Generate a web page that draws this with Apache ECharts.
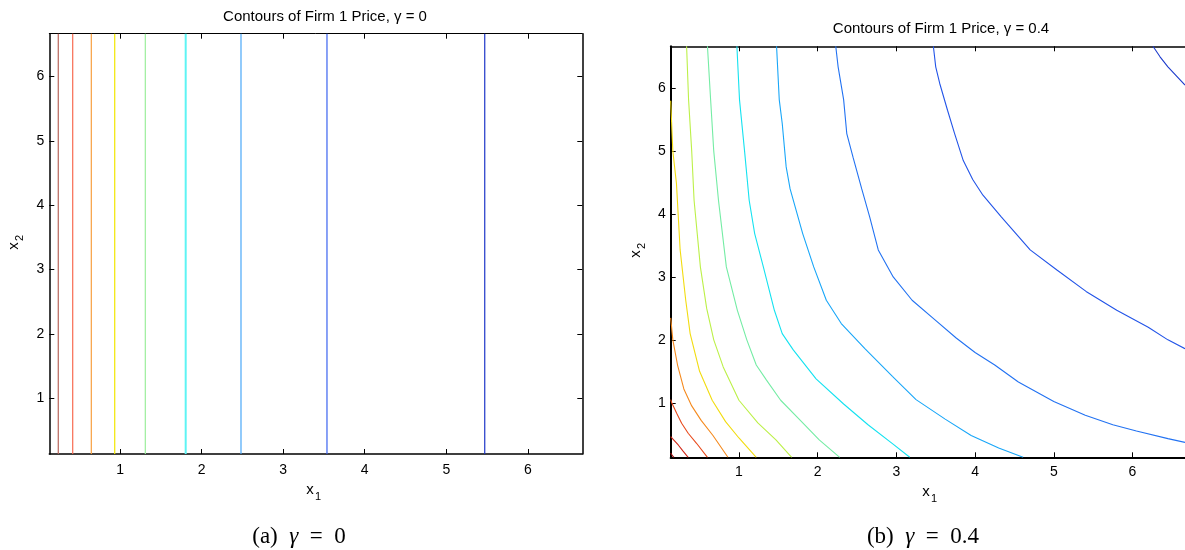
<!DOCTYPE html>
<html>
<head>
<meta charset="utf-8">
<script src="https://cdn.jsdelivr.net/npm/echarts@6.0.0/dist/echarts.min.js"></script>
<style>
  html, body { margin: 0; padding: 0; background: #fff; }
  #chart { width: 1185px; height: 550px; }
</style>
</head>
<body>
<div id="chart"></div>
<script>
// axis range shared by both panels
const axisMin = 0.133;
const axisMax = 6.667;
const tickValues = [1, 2, 3, 4, 5, 6];

// (a) gamma = 0 : contour levels are vertical lines at these x1 values
const levelXa = [0.243, 0.42, 0.648, 0.935, 1.31, 1.805, 2.483, 3.537, 5.471];
const colorsA = ['#b8645a', '#f86a50', '#f8a040', '#f2e600', '#9cee9c', '#5ef4f4', '#4aa8f8', '#3a62f0', '#1e36c8'];

// (b) gamma = 0.4 : contour polylines [x1, x2]
const cDarkest = [[0.133, 0.2], [0.16, 0.15], [0.175, 0.133]];
const cDarkRed = [[0.133, 0.46], [0.17, 0.41], [0.229, 0.329], [0.29, 0.23], [0.355, 0.133]];
const cRed = [[0.133, 1.05], [0.146, 1.0], [0.209, 0.833], [0.272, 0.674], [0.355, 0.515], [0.461, 0.356], [0.6, 0.133]];
const cOrange = [[0.133, 2.35], [0.16, 2.0], [0.22, 1.6], [0.3, 1.22], [0.4, 0.95], [0.52, 0.72], [0.67, 0.48], [0.86, 0.133]];
const cYellow = [[0.133, 5.8], [0.16, 5.0], [0.206, 4.49], [0.253, 3.43], [0.324, 2.63], [0.38, 2.1], [0.5, 1.5], [0.66, 1.04], [0.83, 0.7], [1.0, 0.44], [1.22, 0.133]];
const cYellowGreen = [[0.335, 6.667], [0.36, 5.82], [0.4, 5.0], [0.43, 4.22], [0.51, 3.16], [0.59, 2.5], [0.68, 2.0], [0.8, 1.57], [1.0, 1.04], [1.24, 0.68], [1.47, 0.41], [1.67, 0.133]];
const cGreen = [[0.6, 6.667], [0.64, 5.82], [0.68, 5.0], [0.74, 4.22], [0.84, 3.16], [0.98, 2.47], [1.1, 2.0], [1.22, 1.6], [1.35, 1.36], [1.53, 1.04], [1.78, 0.72], [2.02, 0.41], [2.28, 0.133]];
const cCyan = [[0.974, 6.667], [1.007, 5.82], [1.07, 5.02], [1.13, 4.22], [1.2, 3.69], [1.31, 3.16], [1.45, 2.47], [1.55, 2.1], [1.69, 1.84], [1.98, 1.38], [2.33, 0.98], [2.64, 0.65], [2.95, 0.35], [3.17, 0.133]];
const cLightBlue = [[1.478, 6.667], [1.512, 5.82], [1.55, 5.44], [1.6, 4.75], [1.65, 4.4], [1.81, 3.69], [1.95, 3.16], [2.11, 2.63], [2.3, 2.26], [2.6, 1.86], [2.95, 1.42], [3.25, 1.05], [3.62, 0.74], [3.95, 0.48], [4.3, 0.28], [4.61, 0.133]];
const cBlue = [[2.23, 6.667], [2.26, 6.34], [2.33, 5.82], [2.37, 5.28], [2.45, 4.9], [2.56, 4.4], [2.66, 3.96], [2.77, 3.43], [2.96, 3.0], [3.2, 2.63], [3.48, 2.33], [3.76, 2.03], [4.0, 1.8], [4.25, 1.6], [4.55, 1.33], [5.0, 1.02], [5.4, 0.8], [5.75, 0.65], [6.05, 0.55], [6.45, 0.43], [6.667, 0.37]];
const cMidBlue = [[3.47, 6.667], [3.5, 6.34], [3.55, 6.08], [3.65, 5.65], [3.74, 5.28], [3.85, 4.85], [3.97, 4.55], [4.1, 4.3], [4.33, 3.96], [4.7, 3.43], [5.04, 3.11], [5.41, 2.77], [5.8, 2.47], [6.2, 2.2], [6.45, 2.0], [6.667, 1.86]];
const cDarkBlue = [[6.26, 6.667], [6.35, 6.5], [6.45, 6.34], [6.667, 6.05]];

const contoursB = [cDarkest, cDarkRed, cRed, cOrange, cYellow, cYellowGreen, cGreen, cCyan, cLightBlue, cBlue, cMidBlue, cDarkBlue];
const colorsB = ['#a01010', '#d02818', '#e84a1c', '#f58a1e', '#f2dc10', '#bcf048', '#74eca4', '#14e2f0', '#18a6f8', '#2272f2', '#2254e8', '#1e3ccc'];

const FONT = '"Liberation Sans", Arial, sans-serif';
const SERIF = '"Liberation Serif", "DejaVu Serif", serif';

function makeAxis(gridIndex, pos, showLabel, lineW, margin, showTick) {
  return {
    type: 'value', gridIndex: gridIndex, position: pos,
    min: axisMin, max: axisMax,
    axisLine: { show: lineW > 0, onZero: false, lineStyle: { color: '#000', width: lineW || 1 } },
    axisTick: { show: showTick !== false, inside: true, length: 5, customValues: tickValues, lineStyle: { color: '#000', width: 1 } },
    axisLabel: { show: showLabel, customValues: tickValues, margin: margin, color: '#000', fontSize: 14, fontFamily: FONT },
    splitLine: { show: false }
  };
}

const series = [];
levelXa.forEach(function (x, i) {
  series.push({
    type: 'line', xAxisIndex: 0, yAxisIndex: 0, showSymbol: false, silent: true,
    data: [[x, axisMin], [x, axisMax]],
    lineStyle: { color: colorsA[i], width: i === 5 ? 2 : 1.2 }
  });
});
contoursB.forEach(function (pts, i) {
  series.push({
    type: 'line', xAxisIndex: 2, yAxisIndex: 2, showSymbol: false, silent: true,
    data: pts,
    lineStyle: { color: colorsB[i], width: 1.1 }
  });
});

function textEl(x, y, text, size, font, align) {
  return {
    type: 'text', x: x, y: y, silent: true,
    style: { text: text, font: size + 'px ' + font, fill: '#000', textAlign: align || 'center', textVerticalAlign: 'middle' }
  };
}

function caption(x, y, label, value) {
  return {
    type: 'text', x: x, y: y, silent: true,
    style: {
      text: label + '  {g|\u03b3}  =  ' + value, font: '23px ' + SERIF, fill: '#000',
      textAlign: 'center', textVerticalAlign: 'middle',
      rich: { g: { fontFamily: SERIF, fontSize: 23, fontStyle: 'italic', fill: '#000' } }
    }
  };
}

const chart = echarts.init(document.getElementById('chart'), null, { renderer: 'canvas' });
chart.setOption({
  animation: false,
  backgroundColor: '#fff',
  grid: [
    { left: 49.3, top: 33.7, width: 533, height: 420.3 },
    { left: 670.7, top: 46.3, width: 517.5, height: 411 }
  ],
  xAxis: [
    makeAxis(0, 'bottom', true, 1.5, 9),
    makeAxis(0, 'top', false, 1, 9),
    makeAxis(1, 'bottom', true, 2, 8),
    makeAxis(1, 'top', false, 1.5, 8)
  ],
  yAxis: [
    makeAxis(0, 'left', true, 1.5, 5),
    makeAxis(0, 'right', false, 1.5, 5),
    makeAxis(1, 'left', true, 2, 5),
    makeAxis(1, 'right', false, 0, 5, false)
  ],
  series: series,
  graphic: [
    textEl(325, 17, 'Contours of Firm 1 Price, \u03b3 = 0', 15, FONT),
    textEl(941, 29, 'Contours of Firm 1 Price, \u03b3 = 0.4', 15, FONT),
    // x1 labels
    textEl(310, 490, 'x', 15, FONT),
    textEl(318, 497, '1', 11, FONT),
    textEl(926, 492, 'x', 15, FONT),
    textEl(934, 499, '1', 11, FONT),
    // x2 labels (rotated)
    {
      type: 'group', x: 14, y: 246, rotation: Math.PI / 2, silent: true,
      children: [
        textEl(0, 0, 'x', 15, FONT),
        textEl(8, 6, '2', 11, FONT)
      ]
    },
    {
      type: 'group', x: 636, y: 254, rotation: Math.PI / 2, silent: true,
      children: [
        textEl(0, 0, 'x', 15, FONT),
        textEl(8, 6, '2', 11, FONT)
      ]
    },
    // captions
    caption(299, 537, '(a)', '0'),
    caption(923, 537, '(b)', '0.4')
  ]
});
</script>
</body>
</html>
